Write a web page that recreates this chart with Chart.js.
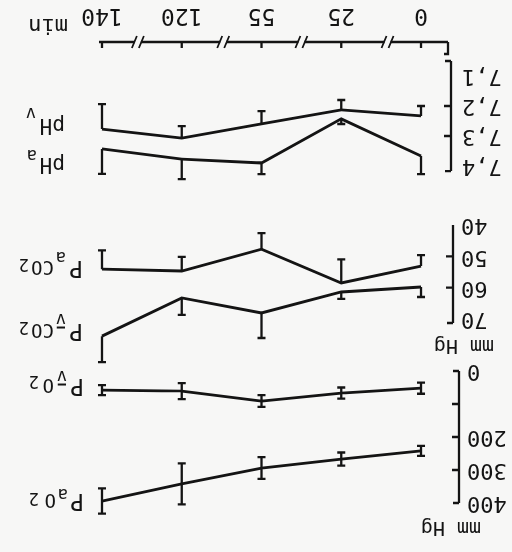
<!DOCTYPE html>
<html>
<head>
<meta charset="utf-8">
<script src="https://cdn.jsdelivr.net/npm/chart.js@4.4.1/dist/chart.umd.min.js"></script>
<style>
  html, body { margin: 0; padding: 0; background: #f7f7f6; }
  /* the scanned figure is printed upside down, so the whole chart is turned */
  #wrap { width: 512px; height: 552px; transform: rotate(180deg); }
</style>
</head>
<body>
<div id="wrap"><canvas id="chart"></canvas></div>
<script>
// time points (min), equally spaced on a broken axis
const times = ['0', '25', '55', '120', '140'];

// mm Hg
const paO2 = [242, 267, 294, 342, 394];
const paO2Err = [15, 20, 33, 62, 38];
const pvO2 = [52, 67, 91, 61, 58];
const pvO2Err = [17, 17, 18, 24, 15];

// mm Hg
const paCO2 = [53.1, 58.5, 47.7, 54.7, 54.1];
const paCO2Err = [3.5, 7.5, 5.1, 4.5, 6.0];
const pvCO2 = [59.8, 61.4, 68.1, 63.3, 75.5];
const pvCO2Err = [3.2, 2.2, 8.0, 5.4, 8.3];

const pHa = [7.367, 7.243, 7.39, 7.377, 7.343];
const pHaErr = [0.06, 0.017, 0.037, 0.067, 0.083];
const pHv = [7.233, 7.213, 7.26, 7.307, 7.277];
const pHvErr = [0.033, 0.033, 0.043, 0.04, 0.083];

const o2Ticks = [0, 100, 200, 300, 400];
const co2Ticks = [40, 50, 60, 70];
const phTicks = [7.1, 7.2, 7.3, 7.4];

const ink = '#141414';
const mono = "'DejaVu Sans Mono', monospace";

function series(values, errs, axis, side) {
  return {
    data: values.map((v, i) => ({ x: i, y: v })),
    errors: errs,
    side: side,
    yAxisID: axis,
    borderColor: ink,
    borderWidth: 2.8,
    pointRadius: 0,
    tension: 0,
    clip: false
  };
}

// one-sided / two-sided error bars with caps
const errorBars = {
  id: 'errorBars',
  afterDatasetsDraw(chart) {
    const ctx = chart.ctx;
    ctx.save();
    ctx.strokeStyle = ink;
    ctx.lineWidth = 2.3;
    chart.data.datasets.forEach((ds, i) => {
      const meta = chart.getDatasetMeta(i);
      const ys = chart.scales[ds.yAxisID];
      meta.data.forEach((pt, j) => {
        const v = ds.data[j].y, e = ds.errors[j];
        const hi = ys.getPixelForValue(v + e);
        const lo = ys.getPixelForValue(v - e);
        let a = pt.y, b = pt.y;
        if (ds.side === 'up' || ds.side === 'both') a = hi;
        if (ds.side === 'down' || ds.side === 'both') b = lo;
        ctx.beginPath();
        ctx.moveTo(pt.x, a); ctx.lineTo(pt.x, b);
        if (a !== pt.y) { ctx.moveTo(pt.x - 4, a); ctx.lineTo(pt.x + 4, a); }
        if (b !== pt.y) { ctx.moveTo(pt.x - 4, b); ctx.lineTo(pt.x + 4, b); }
        ctx.stroke();
      });
    });
    ctx.restore();
  }
};

function drawParts(ctx, x, y, parts) {
  parts.forEach(p => {
    ctx.font = p[1] + 'px ' + mono;
    const dy = p[3] || 0;
    ctx.fillText(p[0], x + p[2], y + dy);
    if (p[4]) {
      const w = ctx.measureText(p[0]).width;
      ctx.fillRect(x + p[2] + 1, y + dy - p[1] * 0.56 - 5, w - 2, 2);
    }
  });
}

// [text, size, dx, dy, overbar]
const seriesLabels = [
  { x: 428, y: 58, parts: [['P', 23, 0], ['a', 17, 16, 5], ['O', 19, 28], ['2', 17, 45, 1]] },
  { x: 428, y: 173, parts: [['P', 23, 0], ['v', 17, 17, 8, true], ['O', 19, 30], ['2', 17, 45, 3]] },
  { x: 429, y: 228, parts: [['P', 23, 0], ['v', 17, 17, 10, true], ['CO', 19, 29], ['2', 17, 54, 2]] },
  { x: 429, y: 291, parts: [['P', 23, 0], ['a', 17, 17, 9], ['CO', 19, 29], ['2', 17, 54, 2]] },
  { x: 447, y: 433, parts: [['pH', 21, 0], ['v', 17, 29, 11]] },
  { x: 447, y: 394, parts: [['pH', 21, 0], ['a', 17, 28, 8]] }
];

// the panel axes are laid out with zero width; widen their boxes so labels are not clipped
const axisBoxes = {
  id: 'axisBoxes',
  afterLayout(chart) {
    ['yO2', 'yCO2', 'yPH'].forEach(id => { chart.scales[id].left = 0; });
  }
};

// broken time axis, panel brackets, inward ticks and free texts
const frame = {
  id: 'frame',
  afterDraw(chart) {
    const ctx = chart.ctx;
    const xs = chart.scales.x;
    const area = chart.chartArea;
    ctx.save();
    ctx.strokeStyle = ink;
    ctx.fillStyle = ink;
    ctx.lineWidth = 2.3;

    // time axis with breaks
    const ay = area.bottom + 18;
    const x0 = area.left + 3, x1 = xs.getPixelForValue(times.length - 1) + 3;
    const breaks = [0.42, 1.5, 2.48, 3.55].map(u => xs.getPixelForValue(u));
    ctx.beginPath();
    let cur = x0;
    breaks.forEach(bx => {
      ctx.moveTo(cur, ay); ctx.lineTo(bx - 3, ay);
      cur = bx + 3;
    });
    ctx.moveTo(cur, ay); ctx.lineTo(x1, ay);
    ctx.moveTo(x0, ay); ctx.lineTo(x0, ay - 12); ctx.lineTo(x0 + 4, ay - 12);
    times.forEach((t, i) => {
      const px = xs.getPixelForValue(i);
      ctx.moveTo(px, ay); ctx.lineTo(px, ay - 6);
    });
    ctx.stroke();
    ctx.lineWidth = 1.8;
    ctx.beginPath();
    breaks.forEach(bx => {
      ctx.moveTo(bx - 6, ay + 6); ctx.lineTo(bx - 1, ay - 6);
      ctx.moveTo(bx + 1, ay + 6); ctx.lineTo(bx + 6, ay - 6);
    });
    ctx.stroke();

    // panel brackets
    ctx.lineWidth = 2.3;
    const bracket = (scale, bx, from, to, inner, stubs) => {
      const yA = scale.getPixelForValue(from), yB = scale.getPixelForValue(to);
      ctx.beginPath();
      ctx.moveTo(bx, yA); ctx.lineTo(bx, yB);
      if (stubs[0]) { ctx.moveTo(bx, yA); ctx.lineTo(bx + 6, yA); }
      if (stubs[1]) { ctx.moveTo(bx, yB); ctx.lineTo(bx + 6, yB); }
      inner.forEach(v => {
        const py = scale.getPixelForValue(v);
        ctx.moveTo(bx, py); ctx.lineTo(bx + 7, py);
      });
      ctx.stroke();
    };
    bracket(chart.scales.yO2, area.left - 8, 0, 400, [100, 200, 300], [true, true]);
    bracket(chart.scales.yCO2, area.left - 2, 40, 71.3, [50, 60], [false, true]);
    bracket(chart.scales.yPH, area.left, 7.05, 7.417, [7.2, 7.3], [true, true]);

    // texts
    ctx.textAlign = 'left';
    ctx.textBaseline = 'alphabetic';
    ctx.font = '20px ' + mono;
    ctx.fillText('mm Hg', 31, 30);
    ctx.fillText('mm Hg', 18, 212);
    ctx.font = '22px ' + mono;
    ctx.fillText('min', 444, 533);
    seriesLabels.forEach(l => drawParts(ctx, l.x, l.y, l.parts));
    ctx.restore();
  }
};

function yAxis(ticks, min, max, pad, label) {
  return {
    type: 'linear',
    position: 'left',
    min: min,
    max: max,
    afterBuildTicks: s => { s.ticks = ticks.map(v => ({ value: v })); },
    afterFit: s => { s.width = 0; },
    grid: { display: false },
    border: { display: false },
    ticks: {
      autoSkip: false,
      padding: pad,
      color: ink,
      font: { family: mono, size: 22 },
      callback: label
    }
  };
}

new Chart(document.getElementById('chart'), {
  type: 'line',
  data: {
    datasets: [
      series(paO2, paO2Err, 'yO2', 'both'),
      series(pvO2, pvO2Err, 'yO2', 'both'),
      series(paCO2, paCO2Err, 'yCO2', 'down'),
      series(pvCO2, pvCO2Err, 'yCO2', 'up'),
      series(pHa, pHaErr, 'yPH', 'up'),
      series(pHv, pHvErr, 'yPH', 'down')
    ]
  },
  options: {
    responsive: true,
    maintainAspectRatio: false,
    animation: false,
    layout: { padding: { left: 61, right: 98, top: 40, bottom: 0 } },
    plugins: { legend: { display: false }, tooltip: { enabled: false } },
    scales: {
      x: {
        type: 'linear',
        min: -0.376,
        max: 4.05,
        afterBuildTicks: s => { s.ticks = times.map((t, i) => ({ value: i })); },
        afterFit: s => { s.height = 60; },
        grid: { display: false },
        border: { display: false },
        ticks: {
          autoSkip: false,
          maxRotation: 0,
          padding: 23,
          color: ink,
          font: { family: mono, size: 23 },
          callback: v => times[v]
        }
      },
      // each panel axis spans the whole plot height; ranges put the panels in place
      yO2: yAxis(o2Ticks, -942.4, 427.3, 8, v => (v === 100 ? '' : String(v))),
      yCO2: yAxis(co2Ticks, -12.72, 131.69, 2, v => String(v)),
      yPH: yAxis(phTicks, 7.0467, 8.5533, 3, v => v.toFixed(1).replace('.', ','))
    }
  },
  plugins: [axisBoxes, errorBars, frame]
});
</script>
</body>
</html>
